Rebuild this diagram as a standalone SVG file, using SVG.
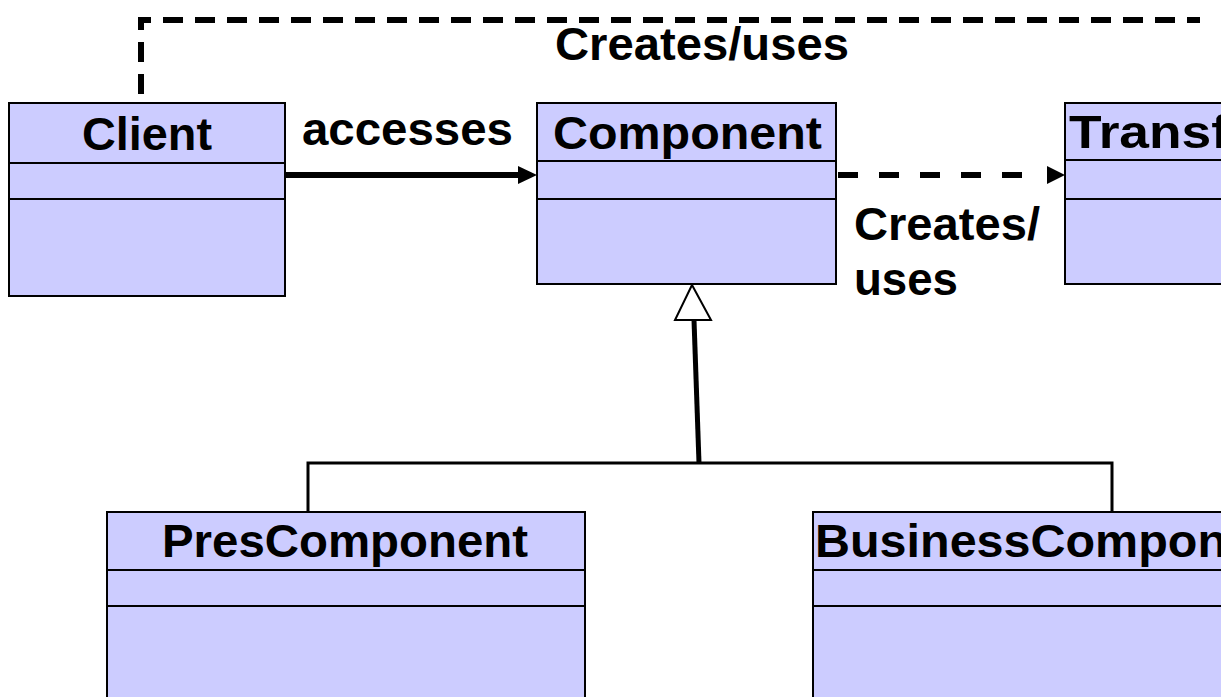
<svg xmlns="http://www.w3.org/2000/svg" width="1221" height="697" viewBox="0 0 1221 697">
<style>
.box{fill:#CCCCFF;stroke:#000;stroke-width:2}
.sep{stroke:#000;stroke-width:2}
.t{font-family:"Liberation Sans",Arial,sans-serif;font-weight:bold;font-size:46px;fill:#000}
.dash{fill:none;stroke:#000;stroke-width:6}
</style>
<rect width="1221" height="697" fill="#fff"/>
<g id="connectors">
<path class="dash" d="M141,94 V20 H1200" stroke-dasharray="20 12"/>
<line x1="285" y1="175" x2="521" y2="175" stroke="#000" stroke-width="6"/>
<polygon points="518,166 537,175 518,184" fill="#000"/>
<line class="dash" x1="838" y1="175" x2="1032" y2="175" stroke-dasharray="20 21"/>
<polygon points="1047,166 1065,175 1047,184" fill="#000"/>
<line x1="694" y1="320" x2="699" y2="463" stroke="#000" stroke-width="5"/>
<polygon points="692,285 675,320 711,320" fill="#fff" stroke="#000" stroke-width="2"/>
<polyline points="308,512 308,463 1112,463 1112,512" fill="none" stroke="#000" stroke-width="3"/>
</g>
<g id="label-creates-uses-top"><text class="t" x="555" y="60" textLength="294" lengthAdjust="spacingAndGlyphs">Creates/uses</text></g>
<g id="label-accesses"><text class="t" x="302" y="145" textLength="211" lengthAdjust="spacingAndGlyphs">accesses</text></g>
<g id="label-creates-uses">
<text class="t" x="854" y="240" textLength="186" lengthAdjust="spacingAndGlyphs">Creates/</text>
<text class="t" x="854" y="295" textLength="104" lengthAdjust="spacingAndGlyphs">uses</text>
</g>
<g id="Client">
<rect class="box" x="9" y="103" width="276" height="193"/>
<line class="sep" x1="9" y1="163" x2="285" y2="163"/>
<line class="sep" x1="9" y1="199" x2="285" y2="199"/>
<text class="t" x="82" y="150" textLength="130" lengthAdjust="spacingAndGlyphs">Client</text>
</g>
<g id="Component">
<rect class="box" x="537" y="103" width="299" height="181"/>
<line class="sep" x1="537" y1="161" x2="836" y2="161"/>
<line class="sep" x1="537" y1="199" x2="836" y2="199"/>
<text class="t" x="553" y="149" textLength="269" lengthAdjust="spacingAndGlyphs">Component</text>
</g>
<g id="Transf">
<rect class="box" x="1065" y="103" width="170" height="181"/>
<line class="sep" x1="1065" y1="160" x2="1235" y2="160"/>
<line class="sep" x1="1065" y1="199" x2="1235" y2="199"/>
<text class="t" x="1069" y="148" textLength="160" lengthAdjust="spacingAndGlyphs">Transf</text>
</g>
<g id="PresComponent">
<rect class="box" x="107" y="512" width="478" height="200"/>
<line class="sep" x1="107" y1="570" x2="585" y2="570"/>
<line class="sep" x1="107" y1="606" x2="585" y2="606"/>
<text class="t" x="162" y="557" textLength="366" lengthAdjust="spacingAndGlyphs">PresComponent</text>
</g>
<g id="BusinessComponent">
<rect class="box" x="813" y="512" width="420" height="200"/>
<line class="sep" x1="813" y1="570" x2="1233" y2="570"/>
<line class="sep" x1="813" y1="606" x2="1233" y2="606"/>
<text class="t" x="815" y="557" textLength="412" lengthAdjust="spacingAndGlyphs">BusinessCompon</text>
</g>
</svg>
